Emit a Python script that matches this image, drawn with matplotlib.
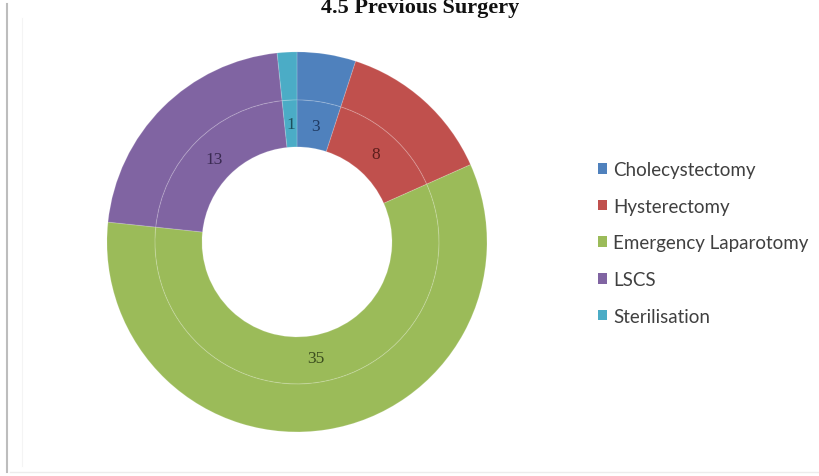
import numpy as np
import matplotlib.pyplot as plt
from matplotlib.lines import Line2D

# Previous surgery counts
labels = ['Cholecystectomy', 'Hysterectomy', 'Emergency Laparotomy', 'LSCS', 'Sterilisation']
counts = [3, 8, 35, 13, 1]
colors = ['#4F81BD', '#C0504D', '#9BBB59', '#8064A2', '#4BACC6']
label_colors = ['#1F3A63', '#5E1E1C', '#3B4D1E', '#3A2A52', '#1D4F5C']

fig = plt.figure(figsize=(8.19, 4.77), dpi=100)

# doughnut axes, square area on the left
ax = fig.add_axes([0.1306, 0.0922, 0.464, 0.797])
edge = dict(edgecolor=(1, 1, 1, 0.15), linewidth=0.8)

# outer ring
ax.pie(counts, radius=1.0, colors=colors, startangle=90, counterclock=False,
       wedgeprops=dict(width=0.253, **edge))
# inner ring (same series)
ax.pie(counts, radius=0.747, colors=colors, startangle=90, counterclock=False,
       wedgeprops=dict(width=0.247, **edge))
ax.set_xlim(-1, 1)
ax.set_ylim(-1, 1)
ax.set_aspect('equal')
ax.axis('off')

# value labels in the middle of the inner ring
total = sum(counts)
start = 90.0
r_lab = 0.62
for v, c in zip(counts, label_colors):
    mid = np.deg2rad(start - 360.0 * v / total / 2)
    ax.text(r_lab * np.cos(mid), r_lab * np.sin(mid), str(v), ha='center', va='center',
            fontsize=12.5, color=c, family='Liberation Serif')
    start -= 360.0 * v / total

# legend
handles = [plt.Rectangle((0, 0), 1, 1, facecolor=c, edgecolor='none') for c in colors]
fig.legend(handles, labels, loc='center left', bbox_to_anchor=(0.709, 0.489),
           frameon=False, prop=dict(family='Lato', size=13.5), labelcolor='#404040',
           handlelength=0.5, handleheight=0.5, handletextpad=0.35, labelspacing=1.05)

# title, partly cut off at the top edge
fig.text(0.513, 0.984, '4.5 Previous Surgery', ha='center', va='center',
         fontsize=16, fontweight='bold', family='Liberation Serif', color='#111111')

# chart border lines
fig.add_artist(Line2D([0.0085, 0.0085], [0.008, 0.99], color='#bdbdbd', linewidth=1.5,
                      transform=fig.transFigure))
fig.add_artist(Line2D([0.012, 1.0], [0.008, 0.008], color='#ececec', linewidth=1,
                      transform=fig.transFigure))
fig.add_artist(Line2D([0.027, 0.027], [0.02, 0.96], color='#f4f4f4', linewidth=0.8,
                      transform=fig.transFigure))

fig.savefig('out.png', dpi=100)
